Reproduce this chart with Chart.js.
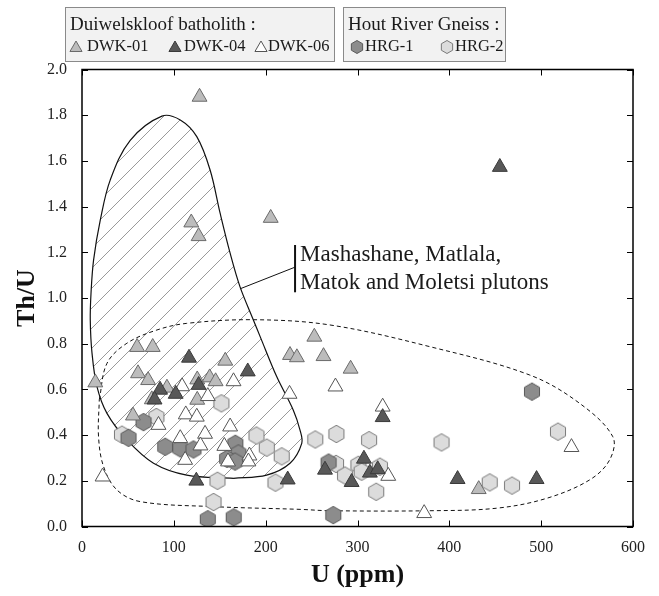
<!DOCTYPE html>
<html>
<head>
<meta charset="utf-8">
<script src="https://cdn.jsdelivr.net/npm/chart.js@4.4.1/dist/chart.umd.min.js"></script>
<style>
  html, body { margin: 0; padding: 0; background: #fff; }
  #wrap { width: 659px; height: 596px; }
</style>
</head>
<body>
<div id="wrap"><canvas id="chart" width="659" height="596"></canvas></div>
<script>
const SERIF = "'Liberation Serif', 'Times New Roman', serif";

// Duiwelskloof batholith
const dwk01U   = [128, 205.5, 119, 127, 253, 226.5, 234, 263, 60, 77, 14.5, 61, 72, 156, 92.5, 76, 125.5, 139, 145.5, 125.5, 55.5, 292.5, 432];
const dwk01ThU = [1.88, 1.35, 1.33, 1.27, 0.83, 0.75, 0.74, 0.745, 0.785, 0.785, 0.63, 0.67, 0.64, 0.725, 0.607, 0.556, 0.643, 0.652, 0.635, 0.554, 0.485, 0.69, 0.163];

const dwk04U   = [455, 116.5, 180.5, 85, 79, 102, 127, 124.5, 224, 327.4, 264.6, 293.6, 307, 313.5, 322, 409, 495];
const dwk04ThU = [1.573, 0.738, 0.678, 0.598, 0.555, 0.58, 0.619, 0.2, 0.205, 0.478, 0.248, 0.194, 0.296, 0.235, 0.25, 0.207, 0.207];

const dwk06U   = [109, 165, 137, 226, 276, 83.3, 113, 125, 161.3, 107, 134, 129, 112.3, 155, 159, 182.3, 181.2, 22.4, 327.4, 333.5, 533, 372.6];
const dwk06ThU = [0.613, 0.635, 0.57, 0.58, 0.612, 0.444, 0.49, 0.48, 0.437, 0.386, 0.405, 0.354, 0.291, 0.352, 0.284, 0.31, 0.284, 0.218, 0.524, 0.221, 0.347, 0.058];

// Hout River Gneiss
const hrg1U   = [67, 50.7, 90.6, 107, 121.4, 167, 170.3, 158, 166.7, 137, 165.2, 268.5, 490, 273.6];
const hrg1ThU = [0.457, 0.388, 0.349, 0.342, 0.337, 0.362, 0.32, 0.296, 0.284, 0.032, 0.04, 0.28, 0.59, 0.05];

const hrg2U   = [151.8, 81, 43.5, 190, 201.2, 217.5, 147.5, 210.7, 143.2, 254, 277, 312.6, 276.6, 286.4, 301, 304.5, 324.4, 320.4, 391.5, 444, 468.3, 518.3];
const hrg2ThU = [0.539, 0.479, 0.402, 0.398, 0.345, 0.307, 0.2, 0.192, 0.107, 0.381, 0.405, 0.378, 0.274, 0.223, 0.27, 0.24, 0.262, 0.152, 0.368, 0.193, 0.179, 0.415];

// field of the Mashashane, Matlala, Matok and Moletsi plutons (hatched)
const plutonU   = [165, 201, 226.5, 239.3, 237.4, 230, 212, 194, 186.6, 172, 161.3, 150.4, 139.5, 125, 107, 87, 52.5, 30.8, 19.9, 12.6, 9.8, 9, 10.9, 16.3, 27.2, 48.9, 77.9, 114, 165];
const plutonThU = [0.211, 0.225, 0.277, 0.364, 0.422, 0.51, 0.656, 0.831, 0.904, 1.05, 1.196, 1.371, 1.56, 1.706, 1.779, 1.796, 1.69, 1.517, 1.341, 1.166, 1.02, 0.904, 0.759, 0.612, 0.495, 0.379, 0.277, 0.225, 0.211];

// dashed field
const dashU   = [18.8, 27.2, 48.9, 81.6, 114, 186.6, 270, 378.8, 487.5, 541.9, 578, 574.5, 552.8, 505.7, 451.3, 378.8, 270, 237.4, 143, 63.4, 38, 23.5, 18, 18.8];
const dashThU = [0.554, 0.714, 0.802, 0.86, 0.889, 0.905, 0.882, 0.787, 0.663, 0.539, 0.393, 0.291, 0.204, 0.123, 0.08, 0.069, 0.069, 0.075, 0.087, 0.109, 0.16, 0.262, 0.393, 0.554];

const xTicks = [0, 100, 200, 300, 400, 500, 600];
const yTicks = [0, 0.2, 0.4, 0.6, 0.8, 1.0, 1.2, 1.4, 1.6, 1.8, 2.0];

const labelLines = ['Mashashane, Matlala,', 'Matok and Moletsi plutons'];

function toPoints(xs, ys) {
    return xs.map((x, i) => ({ x: x, y: ys[i] }));
}

function hexPath(ctx, cx, cy, r) {
    ctx.beginPath();
    for (let i = 0; i < 6; i++) {
        const a = Math.PI / 3 * i - Math.PI / 2;
        const px = cx + r * Math.cos(a);
        const py = cy + r * Math.sin(a);
        if (i === 0) ctx.moveTo(px, py); else ctx.lineTo(px, py);
    }
    ctx.closePath();
}

function hexImage(fill, stroke, r) {
    const size = 22;
    const c = document.createElement('canvas');
    c.width = size;
    c.height = size;
    const ctx = c.getContext('2d');
    hexPath(ctx, size / 2, size / 2, r);
    ctx.fillStyle = fill;
    ctx.fill();
    ctx.lineWidth = 1;
    ctx.strokeStyle = stroke;
    ctx.stroke();
    return c;
}

const canvas = document.getElementById('chart');

function hatchPattern() {
    const s = 20;
    const c = document.createElement('canvas');
    c.width = s;
    c.height = s;
    const ctx = c.getContext('2d');
    ctx.strokeStyle = '#9a9a9a';
    ctx.lineWidth = 1;
    ctx.beginPath();
    ctx.moveTo(0, s); ctx.lineTo(s, 0);
    ctx.moveTo(-s / 2, s / 2); ctx.lineTo(s / 2, -s / 2);
    ctx.moveTo(s / 2, s * 1.5); ctx.lineTo(s * 1.5, s / 2);
    ctx.stroke();
    return canvas.getContext('2d').createPattern(c, 'repeat');
}

const styles = {
    dwk01: { fill: '#bcbcbc', stroke: '#6a6a6a' },
    dwk04: { fill: '#585858', stroke: '#3a3a3a' },
    dwk06: { fill: '#ffffff', stroke: '#555555' },
    hrg1:  { fill: '#8c8c8c', stroke: '#5a5a5a' },
    hrg2:  { fill: '#dcdcdc', stroke: '#7a7a7a' }
};

const hrg1Img = hexImage(styles.hrg1.fill, styles.hrg1.stroke, 8.7);
const hrg2Img = hexImage(styles.hrg2.fill, styles.hrg2.stroke, 8.7);

function triDataset(label, xs, ys, st, order) {
    return {
        label: label,
        data: toPoints(xs, ys),
        pointStyle: 'triangle',
        pointRadius: 8.6,
        backgroundColor: st.fill,
        borderColor: st.stroke,
        borderWidth: 1,
        order: order
    };
}

// frame, inside ticks, axis titles, annotation
const framePlugin = {
    id: 'frame',
    afterDatasetsDraw(chart) {
        const ctx = chart.ctx;
        const a = chart.chartArea;
        const xs = chart.scales.x, ys = chart.scales.y;
        ctx.save();

        // annotation: leader + bar + text
        ctx.strokeStyle = '#111';
        ctx.lineWidth = 1;
        ctx.beginPath();
        ctx.moveTo(xs.getPixelForValue(172), ys.getPixelForValue(1.04));
        ctx.lineTo(xs.getPixelForValue(232), ys.getPixelForValue(1.135));
        ctx.stroke();
        ctx.lineWidth = 2;
        ctx.beginPath();
        ctx.moveTo(xs.getPixelForValue(232), ys.getPixelForValue(1.232));
        ctx.lineTo(xs.getPixelForValue(232), ys.getPixelForValue(1.025));
        ctx.stroke();
        ctx.fillStyle = '#1a1a1a';
        ctx.font = '23px ' + SERIF;
        ctx.textAlign = 'left';
        ctx.textBaseline = 'middle';
        ctx.fillText(labelLines[0], xs.getPixelForValue(237.5), ys.getPixelForValue(1.188));
        ctx.fillText(labelLines[1], xs.getPixelForValue(237.5), ys.getPixelForValue(1.064));

        // frame
        ctx.strokeStyle = '#000';
        ctx.lineWidth = 1.5;
        ctx.strokeRect(a.left, a.top, a.right - a.left, a.bottom - a.top);

        // inside ticks on all sides
        ctx.lineWidth = 1;
        ctx.beginPath();
        xTicks.forEach(v => {
            const px = Math.round(xs.getPixelForValue(v)) + 0.5;
            ctx.moveTo(px, a.bottom); ctx.lineTo(px, a.bottom - 6);
            ctx.moveTo(px, a.top); ctx.lineTo(px, a.top + 6);
        });
        yTicks.forEach(v => {
            const py = Math.round(ys.getPixelForValue(v)) + 0.5;
            ctx.moveTo(a.left, py); ctx.lineTo(a.left + 6, py);
            ctx.moveTo(a.right, py); ctx.lineTo(a.right - 6, py);
        });
        ctx.stroke();

        // axis titles
        ctx.fillStyle = '#111';
        ctx.font = 'bold 26px ' + SERIF;
        ctx.textAlign = 'center';
        ctx.textBaseline = 'middle';
        ctx.fillText('U (ppm)', (a.left + a.right) / 2, 575);
        ctx.translate(27, (a.top + a.bottom) / 2);
        ctx.rotate(-Math.PI / 2);
        ctx.fillText('Th/U', 0, 0);
        ctx.restore();
    }
};

function drawTri(ctx, x, y, r, st) {
    ctx.beginPath();
    for (let i = 0; i < 3; i++) {
        const a = i * 2 * Math.PI / 3;
        const px = x + Math.sin(a) * r, py = y - Math.cos(a) * r;
        if (i === 0) ctx.moveTo(px, py); else ctx.lineTo(px, py);
    }
    ctx.closePath();
    ctx.fillStyle = st.fill;
    ctx.fill();
    ctx.strokeStyle = st.stroke;
    ctx.lineWidth = 1;
    ctx.stroke();
}

function drawHex(ctx, x, y, r, st) {
    hexPath(ctx, x, y, r);
    ctx.fillStyle = st.fill;
    ctx.fill();
    ctx.strokeStyle = st.stroke;
    ctx.lineWidth = 1;
    ctx.stroke();
}

// two grouped legend boxes above the plot
const legendPlugin = {
    id: 'groupLegend',
    afterDraw(chart) {
        const ctx = chart.ctx;
        ctx.save();
        ctx.fillStyle = '#f2f2f2';
        ctx.strokeStyle = '#8a8a8a';
        ctx.lineWidth = 1;
        ctx.fillRect(65.5, 7.5, 269, 54);
        ctx.strokeRect(65.5, 7.5, 269, 54);
        ctx.fillRect(343.5, 7.5, 162, 54);
        ctx.strokeRect(343.5, 7.5, 162, 54);

        ctx.fillStyle = '#1a1a1a';
        ctx.textAlign = 'left';
        ctx.textBaseline = 'middle';
        ctx.font = '19px ' + SERIF;
        ctx.fillText('Duiwelskloof batholith :', 70, 25);
        ctx.fillText('Hout River Gneiss :', 348, 25);

        const ey = 48;
        drawTri(ctx, 76, ey, 7, styles.dwk01);
        drawTri(ctx, 175, ey, 7, styles.dwk04);
        drawTri(ctx, 261, ey, 7, styles.dwk06);
        drawHex(ctx, 357, ey - 1, 6.5, styles.hrg1);
        drawHex(ctx, 447, ey - 1, 6.5, styles.hrg2);

        ctx.fillStyle = '#1a1a1a';
        ctx.font = '16.5px ' + SERIF;
        ctx.fillText('DWK-01', 87, ey - 1);
        ctx.fillText('DWK-04', 184, ey - 1);
        ctx.fillText('DWK-06', 268, ey - 1);
        ctx.fillText('HRG-1', 365, ey - 1);
        ctx.fillText('HRG-2', 455, ey - 1);
        ctx.restore();
    }
};

new Chart(canvas, {
    type: 'scatter',
    data: {
        datasets: [
            {
                label: 'plutons',
                data: toPoints(plutonU, plutonThU),
                showLine: true,
                fill: 'shape',
                backgroundColor: hatchPattern(),
                borderColor: '#111',
                borderWidth: 1.2,
                pointRadius: 0,
                tension: 0.35,
                order: 10
            },
            {
                label: 'field',
                data: toPoints(dashU, dashThU),
                showLine: true,
                fill: false,
                borderColor: '#111',
                borderWidth: 1,
                borderDash: [4, 3],
                pointRadius: 0,
                tension: 0.35,
                order: 9
            },
            {
                label: 'HRG-2',
                data: toPoints(hrg2U, hrg2ThU),
                pointStyle: hrg2Img,
                pointRadius: 9,
                order: 5
            },
            {
                label: 'HRG-1',
                data: toPoints(hrg1U, hrg1ThU),
                pointStyle: hrg1Img,
                pointRadius: 9,
                order: 4
            },
            triDataset('DWK-01', dwk01U, dwk01ThU, styles.dwk01, 3),
            triDataset('DWK-06', dwk06U, dwk06ThU, styles.dwk06, 2),
            triDataset('DWK-04', dwk04U, dwk04ThU, styles.dwk04, 1)
        ]
    },
    options: {
        responsive: false,
        animation: false,
        events: [],
        layout: { padding: { top: 69.5, right: 26, left: 0, bottom: 0 } },
        plugins: {
            legend: { display: false },
            tooltip: { enabled: false }
        },
        scales: {
            x: {
                type: 'linear',
                min: 0,
                max: 600,
                afterFit: s => { s.height = 69.5; },
                afterBuildTicks: s => { s.ticks = xTicks.map(v => ({ value: v })); },
                ticks: { font: { family: SERIF, size: 16 }, color: '#222', padding: 12, maxRotation: 0 },
                grid: { display: false, drawTicks: false },
                border: { display: false }
            },
            y: {
                type: 'linear',
                min: 0,
                max: 2,
                afterFit: s => { s.width = 82; },
                afterBuildTicks: s => { s.ticks = yTicks.map(v => ({ value: v })); },
                ticks: {
                    font: { family: SERIF, size: 16 },
                    color: '#222',
                    padding: 15,
                    callback: v => v.toFixed(1)
                },
                grid: { display: false, drawTicks: false },
                border: { display: false }
            }
        }
    },
    plugins: [framePlugin, legendPlugin]
});
</script>
</body>
</html>
